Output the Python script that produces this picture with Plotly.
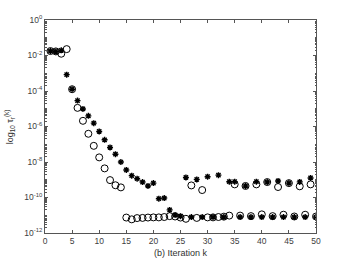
import plotly.graph_objects as go

# Iteration indices and log10 values
circ_k = list(range(1, 51))
circ_log = [-1.75, -1.77, -1.90, -1.64, -3.90, -4.95, -5.68, -6.41, -7.09, -7.74,
            -8.36, -9.02, -9.31, -9.43, -11.13, -11.23, -11.16, -11.15, -11.13, -11.12,
            -11.12, -11.10, -11.05, -11.07, -11.13, -11.20, -9.32, -11.15, -9.58, -11.12,
            -11.12, -11.10, -11.08, -11.02, -9.26, -11.02, -9.35, -11.05, -9.26, -10.95,
            -9.13, -11.05, -9.41, -10.97, -9.19, -11.07, -9.37, -10.97, -9.26, -11.07]

star_k = list(range(1, 51))
star_log = [-1.75, -1.77, -1.71, -3.08, -3.90, -4.54, -5.01, -5.40, -5.81, -6.28,
            -6.75, -7.18, -7.56, -8.00, -8.45, -8.77, -8.94, -9.13, -9.35, -9.19,
            -10.07, -10.03, -10.70, -10.98, -11.05, -8.87, -11.10, -8.98, -11.10, -8.83,
            -11.10, -8.74, -11.10, -9.11, -9.11, -11.10, -9.35, -11.10, -9.11, -11.10,
            -9.13, -11.10, -9.07, -11.10, -9.19, -11.10, -9.12, -11.10, -8.90, -11.10]

ytick_exp = [0, -2, -4, -6, -8, -10, -12]
xtick_vals = [0, 5, 10, 15, 20, 25, 30, 35, 40, 45, 50]
x_title = "(b) Iteration k"
y_title = "log<sub>10</sub> τ<sub>r</sub><sup>(k)</sup>"

circ_y = [10 ** v for v in circ_log]
star_y = [10 ** v for v in star_log]

fig = go.Figure()
fig.add_trace(go.Scatter(
    x=circ_k, y=circ_y, mode="markers",
    marker=dict(symbol="circle-open", size=7, color="black", line=dict(width=1, color="black")),
    showlegend=False))
fig.add_trace(go.Scatter(
    x=star_k, y=star_y, mode="markers",
    marker=dict(symbol="asterisk-open", size=5, color="black", line=dict(width=1.4, color="black")),
    showlegend=False))

font_fam = "Liberation Sans, Arial, sans-serif"
axcol = "#555555"
fig.update_layout(
    width=349, height=262,
    margin=dict(l=45, r=33, t=20, b=29),
    paper_bgcolor="white", plot_bgcolor="white",
    font=dict(family=font_fam, size=8, color="#404040"),
    xaxis=dict(
        range=[0, 50], tickvals=xtick_vals, ticktext=[str(v) for v in xtick_vals],
        ticks="inside", ticklen=3, tickcolor=axcol, showline=True, linecolor=axcol, linewidth=1,
        mirror="ticks", showgrid=False, zeroline=False, automargin=False,
        tickfont=dict(size=8.5, color="#404040"),
    ),
    yaxis=dict(
        type="log", range=[-12, 0],
        tickvals=[10 ** e for e in ytick_exp],
        ticktext=["10<sup>%d</sup>" % e for e in ytick_exp],
        ticks="inside", ticklen=3, tickcolor=axcol, showline=True, linecolor=axcol, linewidth=1,
        mirror="ticks", showgrid=False, zeroline=False, automargin=False,
        minor=dict(ticks="inside", ticklen=1.5, tickcolor=axcol, dtick="D1", showgrid=False),
        tickfont=dict(size=8.5, color="#404040"),
    ),
    annotations=[
        dict(text=x_title, xref="paper", yref="paper", x=0.5, y=-0.094,
             xanchor="center", yanchor="middle", showarrow=False,
             font=dict(size=9, color="#303030")),
        dict(text=y_title, xref="paper", yref="paper", x=-0.13, y=0.5, textangle=-90,
             xanchor="center", yanchor="middle", showarrow=False,
             font=dict(size=9, color="#303030")),
    ],
)

fig.write_html("out.html", config={"displayModeBar": False},
               post_script="document.body.style.margin='0';")
